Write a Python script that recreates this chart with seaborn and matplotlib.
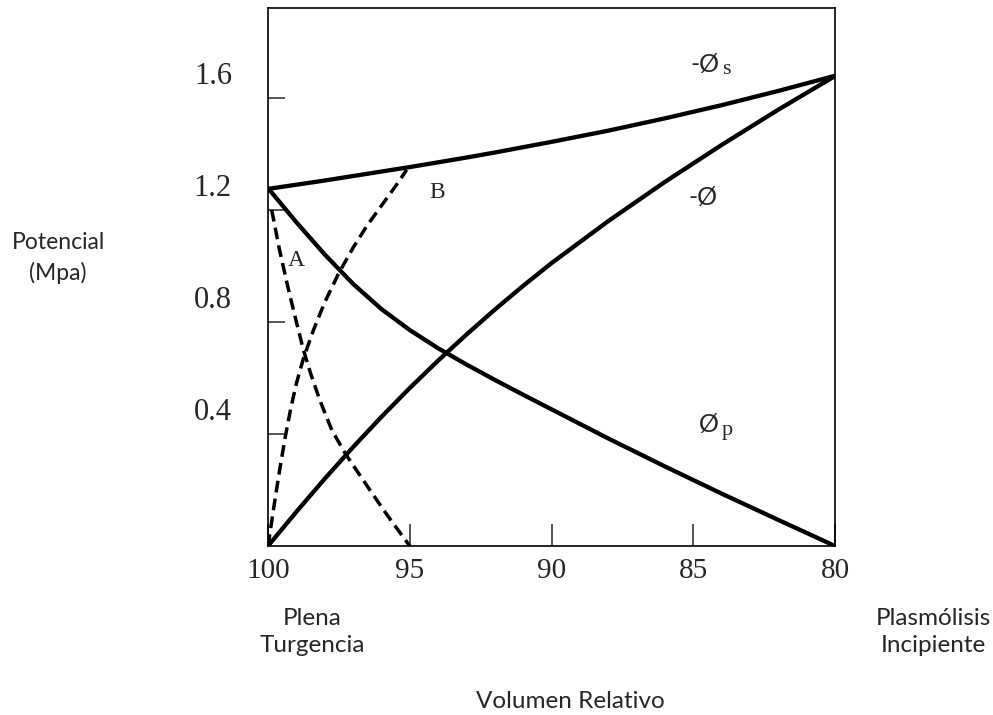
import numpy as np
import pandas as pd
import seaborn as sns
import matplotlib.pyplot as plt
from matplotlib.transforms import ScaledTranslation

# Volumen relativo (%) y potenciales (MPa)
volumen = [100, 99, 98, 97, 96, 95, 94, 93, 92, 91, 90, 88, 86, 84, 82, 80]
pot_soluto = [1.275, 1.290, 1.305, 1.321, 1.337, 1.353, 1.370, 1.387, 1.405, 1.424,
              1.443, 1.483, 1.527, 1.574, 1.625, 1.679]
pot_presion = [1.278, 1.156, 1.041, 0.936, 0.846, 0.771, 0.706, 0.648, 0.593, 0.540,
               0.488, 0.384, 0.284, 0.187, 0.093, 0.0]
pot_hidrico = [0.0, 0.122, 0.240, 0.353, 0.461, 0.564, 0.662, 0.755, 0.844, 0.929,
               1.010, 1.160, 1.300, 1.432, 1.558, 1.678]

# curvas discontinuas A y B
vol_a = [99.87, 99.6, 99.3, 99.0, 98.75, 98.5, 98.17, 97.75, 97.28, 96.81, 96.34, 95.76, 95.0]
pot_a = [1.20, 1.06, 0.925, 0.80, 0.70, 0.617, 0.52, 0.414, 0.331, 0.260, 0.190, 0.105, 0.0]
vol_b = [100, 99.8, 99.6, 99.4, 99.2, 99.0, 98.75, 98.4, 98.0, 97.5, 97.0, 96.5, 96.0, 95.5, 95.11]
pot_b = [0.0, 0.135, 0.265, 0.385, 0.49, 0.58, 0.67, 0.77, 0.87, 0.975, 1.065, 1.145, 1.215, 1.285, 1.343]

yticks = [0.4, 0.8, 1.2, 1.6]
xticks = [100, 95, 90, 85, 80]

df = pd.DataFrame({"volumen": volumen, "soluto": pot_soluto,
                   "presion": pot_presion, "hidrico": pot_hidrico})

sns.set_style("ticks")
plt.rcParams['font.family'] = ['Lato', 'DejaVu Sans']

fig = plt.figure(figsize=(9.93, 7.15), dpi=100)
ax = fig.add_axes([0.2699, 0.2364, 0.571, 0.752])

for col in ["soluto", "presion", "hidrico"]:
    sns.lineplot(data=df, x="volumen", y=col, ax=ax, color="black",
                 linewidth=3.1, estimator=None, sort=False)

sns.lineplot(x=vol_a, y=pot_a, ax=ax, color="black", linewidth=2.5,
             linestyle=(0, (3.4, 1.8)), estimator=None, sort=False)
sns.lineplot(x=vol_b, y=pot_b, ax=ax, color="black", linewidth=2.5,
             linestyle=(0, (3.4, 1.8)), estimator=None, sort=False)

ax.set_xlim(100, 80)
ax.set_ylim(0, 1.92)
ax.set_xlabel("")
ax.set_ylabel("")

for s in ax.spines.values():
    s.set_linewidth(1.2)
    s.set_color("black")

serif = "Liberation Serif"
ax.set_xticks(xticks)
ax.set_xticklabels([str(t) for t in xticks], fontfamily=serif, fontsize=21)
ax.set_yticks(yticks)
ax.set_yticklabels([str(t) for t in yticks], fontfamily=serif, fontsize=22)
ax.tick_params(axis="x", direction="in", length=16, width=1.1, pad=9)
ax.tick_params(axis="y", direction="in", length=12, width=1.1, pad=26)

# etiquetas del eje y desplazadas hacia arriba respecto de las marcas
for lab in ax.get_yticklabels():
    lab.set_transform(lab.get_transform() + ScaledTranslation(0, 0.25, fig.dpi_scale_trans))

# rotulos de las curvas
ax.text(84.09, 1.718, "-Ø", ha="right", va="center", fontsize=18)
ax.text(83.99, 1.700, "s", ha="left", va="center", fontsize=16, fontfamily=serif)
ax.text(84.66, 1.246, "-Ø", ha="center", va="center", fontsize=18)
ax.text(84.10, 0.432, "Ø", ha="right", va="center", fontsize=18)
ax.text(84.00, 0.412, "p", ha="left", va="center", fontsize=16, fontfamily=serif)
ax.text(99.01, 1.021, "A", ha="center", va="center", fontsize=17, fontfamily=serif)
ax.text(94.04, 1.264, "B", ha="center", va="center", fontsize=17, fontfamily=serif)

# textos fuera del area de trazado
fig.text(58 / 993, 1 - 258 / 715, "Potencial\n(Mpa)", ha="center", va="center",
         fontsize=16.5, linespacing=1.45)
fig.text(312 / 993, 1 - 632 / 715, "Plena\nTurgencia", ha="center", va="center",
         fontsize=17.5, linespacing=1.35)
fig.text(933 / 993, 1 - 632 / 715, "Plasmólisis\nIncipiente", ha="center", va="center",
         fontsize=17.5, linespacing=1.35)
fig.text(570 / 993, 1 - 702 / 715, "Volumen Relativo", ha="center", va="center",
         fontsize=17.5)

fig.savefig("out.png", dpi=100, facecolor="white")
